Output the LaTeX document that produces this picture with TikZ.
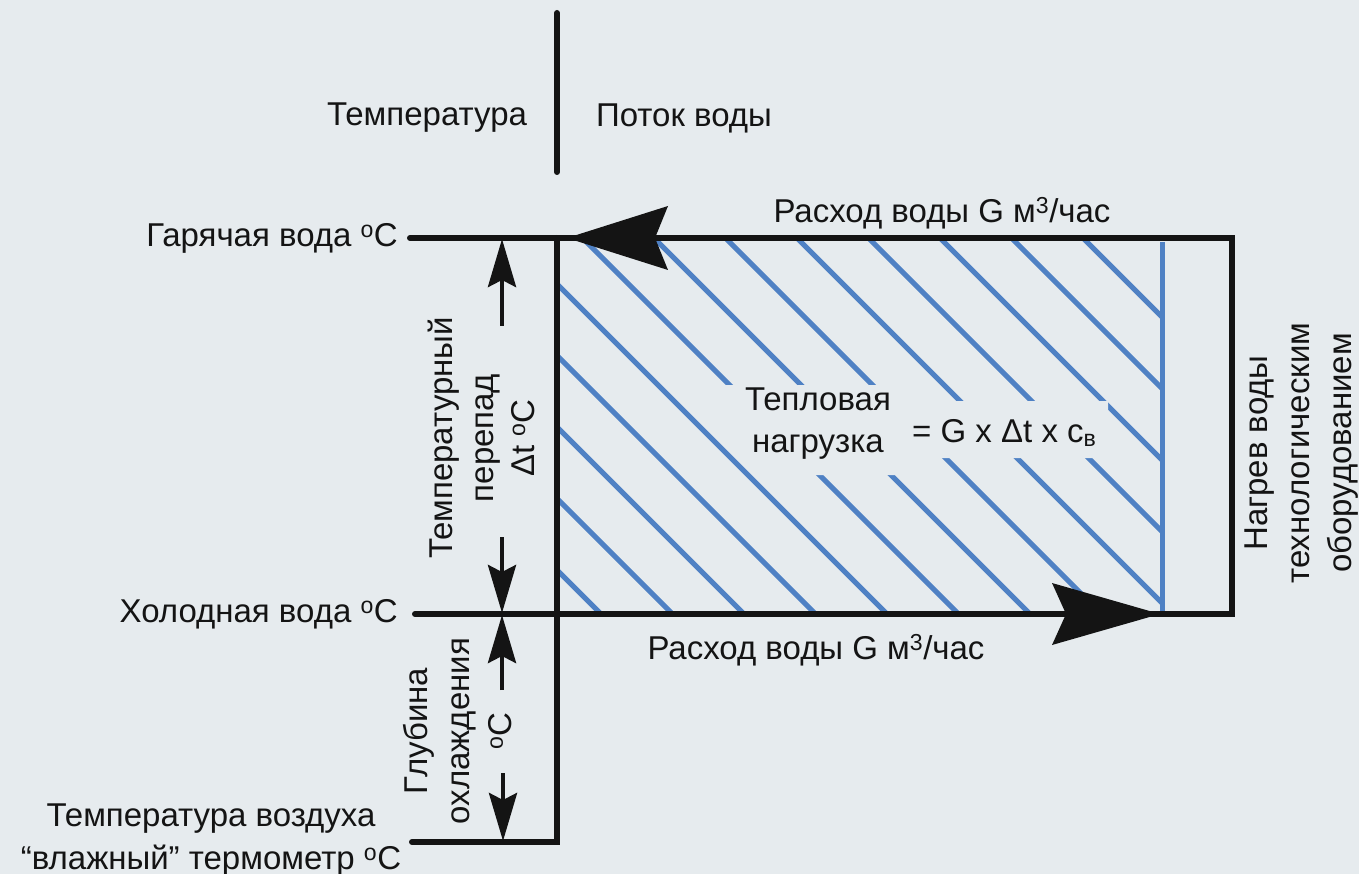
\documentclass[tikz,border=0pt]{standalone}
\usepackage{fontspec}
\setmainfont{Liberation Sans}
\usetikzlibrary{arrows.meta}
\definecolor{bgc}{RGB}{230,235,238}
\definecolor{hatchc}{RGB}{79,129,196}
\definecolor{ink}{RGB}{20,20,20}
\begin{document}
\begin{tikzpicture}[x=1pt,y=-1pt,
  lbl/.style={font=\fontsize{33}{41}\selectfont, inner sep=0pt, text=ink},
  mainline/.style={draw=ink, line width=6pt, line cap=round},
  hatchline/.style={draw=hatchc, line width=5pt},
  dimarrow/.style={draw=ink, line width=4.5pt, -{Stealth[length=48pt,width=28pt,inset=7pt]}},
  bigtip/.style={fill=ink}]
\useasboundingbox (0,0) rectangle (1359,874);
\fill[bgc] (0,0) rectangle (1359,874);

% hatching
\begin{scope}
  \clip (557,238) rectangle (1162,614);
  \foreach \c in {-845,-773.5,-702,-630.5,-559,-487.5,-416,-344.5,-273,-201.5,-130,-58.5,13}
    \draw[hatchline] (400,400+\c) -- (1300,1300+\c);
\end{scope}
% blank region behind the load text
\fill[bgc] (696,385) -- (905,385) -- (905,401) -- (1108,401) -- (1108,458)
  -- (895,458) -- (895,475) -- (786,475) -- cycle;
\coordinate (bluetop) at (1162,242);
\coordinate (bluebot) at (1162,612);
\draw[hatchline] (bluetop) -- (bluebot);

% coordinates of the frame
\coordinate (divtop) at (557,13);
\coordinate (divbot) at (557,172);
\coordinate (hotL) at (410,238);
\coordinate (hotC) at (557,238);
\coordinate (hotR) at (1232,238);
\coordinate (coldL) at (415,614);
\coordinate (coldC) at (557,614);
\coordinate (coldR) at (1232,614);
\coordinate (airL) at (412,842);
\coordinate (airC) at (557,842);

\draw[mainline] (divtop) -- (divbot);
\draw[mainline] (hotL) -- (hotR) -- (coldR) -- (coldL);
\draw[mainline] (hotC) -- (airC) -- (airL);

% big flow arrows
\fill[bigtip] (567,238) -- (668,206) -- (655,238) -- (668,270) -- cycle;
\fill[bigtip] (1160,614) -- (1052,583) -- (1066,614) -- (1052,645) -- cycle;

% dimension arrows
\coordinate (a1s) at (502,326);
\coordinate (a1e) at (502,239);
\coordinate (a2s) at (502,537);
\coordinate (a2e) at (502,613);
\coordinate (a3s) at (502,690);
\coordinate (a3e) at (502,615);
\coordinate (a4s) at (503,773);
\coordinate (a4e) at (503,841);
\draw[dimarrow] (a1s) -- (a1e);
\draw[dimarrow] (a2s) -- (a2e);
\draw[dimarrow] (a3s) -- (a3e);
\draw[dimarrow] (a4s) -- (a4e);

% texts
\node[lbl] (ttemp) at (427,118) {Температура};
\node[lbl] (tflow) at (684,118) {Поток воды};
\node[lbl, anchor=east] (hot) at (398,238) {Гарячая вода \textsuperscript{o}C};
\node[lbl, anchor=east] (cold) at (398,614) {Холодная вода \textsuperscript{o}C};
\node[lbl, align=center, font=\fontsize{33}{43}\selectfont] (air) at (211,840) {Температура воздуха\\“влажный” термометр \textsuperscript{o}C};
\node[lbl, rotate=90, align=center] (dt) at (481,438) {Температурный\\перепад\\Δt \textsuperscript{o}C};
\node[lbl, rotate=90, align=center, font=\fontsize{33}{42}\selectfont] (depth) at (458,731) {Глубина\\охлаждения\\\textsuperscript{o}C};
\node[lbl, rotate=90, align=center, font=\fontsize{33}{42}\selectfont] (heat) at (1302,453) {Нагрев воды\\технологическим\\оборудованием};
\node[lbl] (flowtop) at (942,213) {Расход воды G м\textsuperscript{3}/час};
\node[lbl] (flowbot) at (816,650) {Расход воды G м\textsuperscript{3}/час};
\node[lbl, align=center, font=\fontsize{33}{42}\selectfont] (load) at (818,424) {Тепловая\\нагрузка};
\node[lbl, anchor=west] (formula) at (912,433) {= G x Δt x c\textsubscript{в}};
\end{tikzpicture}
\end{document}
